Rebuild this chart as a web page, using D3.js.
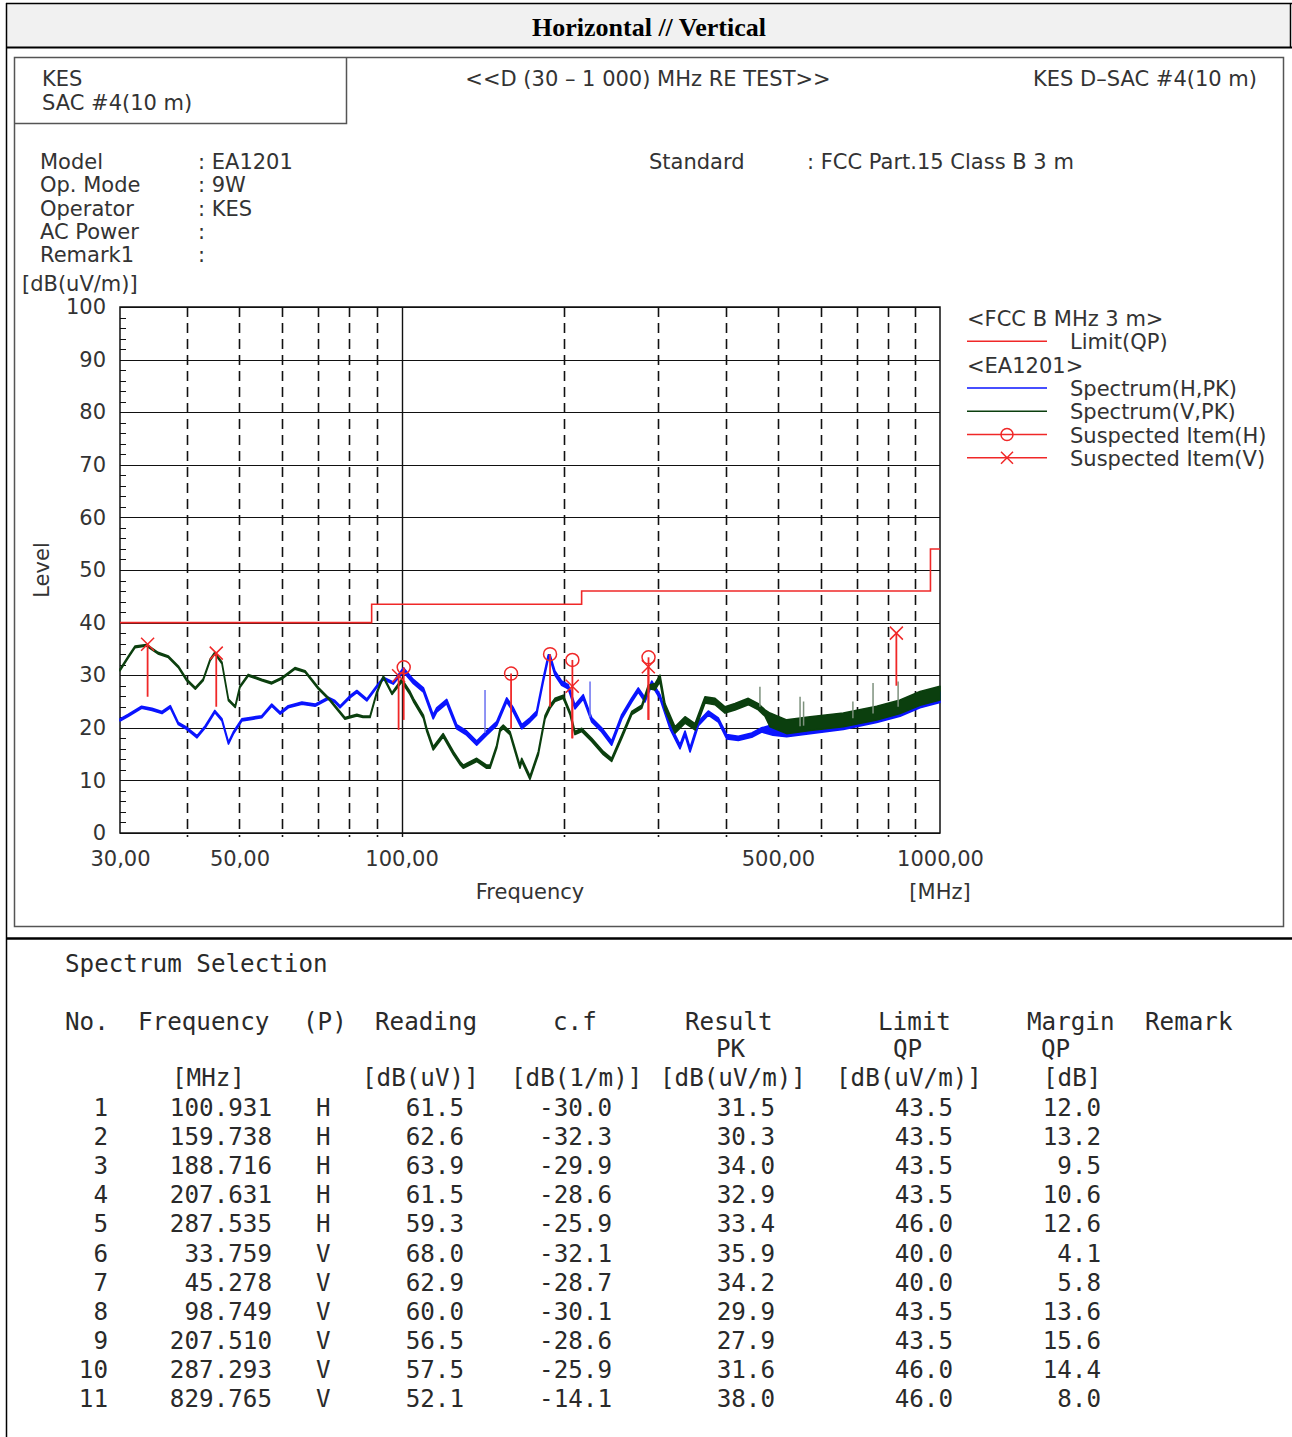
<!DOCTYPE html>
<html>
<head>
<meta charset="utf-8">
<script src="https://cdn.jsdelivr.net/npm/d3@7"></script>
<style>
  body { margin: 0; background: #fff; }
  svg text { font-family: "DejaVu Sans", sans-serif; fill: #333; }
</style>
</head>
<body>
<div id="report"></div>
<script>
// Spectrum (H, PK) - frequency [MHz] / level [dB(uV/m)] / noise half-width
var freqH = [30.0, 31.1, 32.9, 34.4, 35.9, 37.2, 38.5, 39.9, 41.7, 43.2, 45.0, 46.4, 47.7, 48.7, 50.5, 52.7, 55.0, 57.4, 59.5, 61.6,
  65.3, 69.1, 73.1, 75.2, 76.9, 80.2, 82.6, 86.2, 89.9, 92.5, 96.5, 100.8, 105.2, 109.8, 114.5, 116.2, 121.3, 126.6, 132.1, 137.9,
  143.9, 150.2, 156.8, 161.3, 167.2, 173.2, 178.2, 183.3, 187.3, 188.7, 192.7, 198.3, 204.0, 209.9, 217.5, 225.5, 235.3, 245.6, 256.4, 267.6,
  275.2, 283.2, 291.5, 302.0, 315.2, 329.0, 336.1, 343.4, 355.8, 371.3, 387.5, 401.7, 422.1, 447.0, 466.5, 489.6, 519.1, 573.7, 661.3, 762.9,
  843.0, 918.1, 1000];
var levelH = [21.5, 22.4, 23.9, 23.5, 22.9, 24.0, 20.8, 19.9, 18.3, 20.2, 23.1, 21.5, 17.1, 19.0, 21.5, 21.8, 22.1, 24.3, 22.8, 24.0,
  24.7, 24.3, 25.6, 25.0, 24.0, 25.9, 26.9, 25.3, 27.8, 29.4, 28.5, 31.0, 28.8, 27.2, 22.1, 23.4, 25.0, 20.2, 19.0, 17.1,
  19.0, 20.8, 25.3, 23.4, 20.2, 21.5, 22.8, 29.1, 33.5, 33.5, 30.4, 28.5, 27.8, 24.0, 25.9, 21.5, 19.6, 17.1, 22.1, 25.3,
  27.2, 25.3, 28.5, 25.9, 20.2, 16.4, 19.0, 15.8, 20.8, 22.8, 21.5, 18.3, 18.0, 18.6, 19.6, 19.6, 19.3, 19.9, 20.7, 22.0,
  23.2, 24.8, 25.8];
var noiseFromH = [30, 100, 480];
var noiseH = [0.2, 0.4, 1.0];

// Spectrum (V, PK)
var freqV = [30.0, 31.1, 32.0, 33.6, 35.3, 36.9, 38.5, 39.9, 41.4, 42.8, 44.1, 45.0, 46.4, 47.7, 49.1, 50.1, 51.9, 55.0, 57.4, 59.9,
  63.4, 66.2, 70.1, 73.6, 78.5, 82.6, 84.8, 87.4, 89.9, 92.5, 96.0, 100.1, 103.7, 105.2, 109.8, 111.4, 114.5, 119.5, 124.8, 128.4,
  130.2, 137.9, 143.9, 146.0, 150.2, 152.4, 154.5, 159.0, 165.9, 167.2, 173.2, 179.5, 184.7, 188.7, 192.7, 199.7, 205.5, 209.9, 216.1, 225.5,
  237.0, 245.6, 256.4, 267.6, 279.3, 287.3, 295.6, 302.0, 308.5, 322.0, 336.1, 350.8, 366.1, 382.1, 398.8, 416.2, 440.5, 459.8, 473.1, 483.4,
  519.1, 573.7, 661.3, 762.9, 843.0, 918.1, 1000];
var levelV = [31.0, 33.5, 35.4, 35.7, 34.2, 33.5, 31.6, 29.1, 27.5, 29.1, 32.9, 34.2, 32.3, 25.3, 24.0, 27.8, 30.0, 29.1, 28.5, 29.4,
  31.3, 30.7, 27.5, 25.3, 21.8, 22.4, 22.1, 22.1, 26.6, 29.7, 26.5, 29.0, 26.6, 25.3, 22.1, 19.6, 16.1, 18.6, 15.2, 13.3,
  12.6, 13.9, 12.6, 12.6, 16.4, 19.6, 20.2, 19.0, 12.6, 13.9, 10.5, 15.2, 22.0, 24.0, 25.3, 25.9, 22.8, 19.0, 19.6, 17.7,
  15.2, 13.9, 18.3, 22.8, 24.0, 27.8, 27.8, 29.4, 24.0, 19.6, 21.5, 20.2, 25.3, 25.0, 23.4, 24.0, 25.0, 24.0, 22.8, 21.5,
  20.2, 20.8, 21.5, 22.8, 24.0, 25.6, 26.6];
var noiseFromV = [30, 100, 290, 480];
var noiseV = [0.15, 0.3, 0.6, 1.3];

// narrow spikes: frequency, top, base
var spikeFreqV = [463, 549.7, 558, 689, 751, 836];
var spikeTopV = [27.8, 25.9, 25.0, 25.0, 28.5, 28.8];
var spikeBaseV = [24.0, 20.3, 20.4, 21.8, 22.7, 24.0];
var spikeFreqH = [142.9, 223.9];
var spikeTopH = [27.2, 28.8];
var spikeBaseH = [19.0, 22.0];

// Limit (QP) steps
var limitFreq = [30, 88, 88, 216, 216, 960, 960, 1000];
var limitLevel = [40, 40, 43.5, 43.5, 46, 46, 54, 54];

// Spectrum Selection table
var tableNo = [1, 2, 3, 4, 5, 6, 7, 8, 9, 10, 11];
var tableFreq = [100.931, 159.738, 188.716, 207.631, 287.535, 33.759, 45.278, 98.749, 207.510, 287.293, 829.765];
var tablePol = ["H", "H", "H", "H", "H", "V", "V", "V", "V", "V", "V"];
var tableReading = [61.5, 62.6, 63.9, 61.5, 59.3, 68.0, 62.9, 60.0, 56.5, 57.5, 52.1];
var tableCf = [-30.0, -32.3, -29.9, -28.6, -25.9, -32.1, -28.7, -30.1, -28.6, -25.9, -14.1];
var tableResult = [31.5, 30.3, 34.0, 32.9, 33.4, 35.9, 34.2, 29.9, 27.9, 31.6, 38.0];
var tableLimit = [43.5, 43.5, 43.5, 43.5, 46.0, 40.0, 40.0, 43.5, 43.5, 46.0, 46.0];
var tableMargin = [12.0, 13.2, 9.5, 10.6, 12.6, 4.1, 5.8, 13.6, 15.6, 14.4, 8.0];
// lower end of each suspected item stem
var stemLow = [21.5, 19.8, 24.0, 18.0, 21.5, 25.9, 24.0, 19.6, 18.0, 21.5, 28.0];

var yTicks = [0, 10, 20, 30, 40, 50, 60, 70, 80, 90, 100];
var xLabelTicks = [30, 50, 100, 500, 1000];
var xGridTicks = [40, 50, 60, 70, 80, 90, 100, 200, 300, 400, 500, 600, 700, 800, 900];

var colH = "#0a14ff";
var colV = "#0b3f0e";
var colRed = "#f02828";

// SVG
var svgWidth = 1292;
var svgHeight = 1437;
var plot = { left: 120, right: 940, top: 307, bottom: 833 };

var svg = d3.select("#report")
  .append("svg")
  .attr("width", svgWidth)
  .attr("height", svgHeight);

// outer report table
svg.append("rect").attr("x", 6).attr("y", 3).attr("width", 1285).attr("height", 44).attr("fill", "#f1f1f1");
svg.append("line").attr("x1", 6).attr("x2", 1292).attr("y1", 3.5).attr("y2", 3.5).attr("stroke", "#000").attr("stroke-width", 1.5);
svg.append("line").attr("x1", 6).attr("x2", 1292).attr("y1", 47.5).attr("y2", 47.5).attr("stroke", "#000").attr("stroke-width", 2);
svg.append("line").attr("x1", 6).attr("x2", 1292).attr("y1", 938.5).attr("y2", 938.5).attr("stroke", "#000").attr("stroke-width", 2.5);
svg.append("line").attr("x1", 6.5).attr("x2", 6.5).attr("y1", 3).attr("y2", svgHeight).attr("stroke", "#000").attr("stroke-width", 1.5);
svg.append("line").attr("x1", 1290.5).attr("x2", 1290.5).attr("y1", 3).attr("y2", 48).attr("stroke", "#000").attr("stroke-width", 1.5);

svg.append("text")
  .attr("x", 649).attr("y", 36)
  .attr("text-anchor", "middle")
  .style("font-family", "'Liberation Serif', serif")
  .style("font-weight", "bold")
  .style("font-size", "26px")
  .style("fill", "#000")
  .text("Horizontal // Vertical");

// chart frame
svg.append("rect").attr("x", 14.5).attr("y", 57.5).attr("width", 1269).attr("height", 869)
  .attr("fill", "none").attr("stroke", "#555").attr("stroke-width", 1.5);
svg.append("path").attr("d", "M14.5,123.5H346.5V57.5")
  .attr("fill", "none").attr("stroke", "#555").attr("stroke-width", 1.5);

function label(x, y, str, anchor) {
  return svg.append("text")
    .attr("x", x).attr("y", y)
    .attr("text-anchor", anchor || "start")
    .style("font-size", "21px")
    .text(str);
}

label(42, 86, "KES");
label(42, 110, "SAC #4(10 m)");
label(648, 86, "<<D (30 \u2013 1 000) MHz RE TEST>>", "middle");
label(1257, 86, "KES D\u2013SAC #4(10 m)", "end");

var infoNames = ["Model", "Op. Mode", "Operator", "AC Power", "Remark1"];
var infoValues = [": EA1201", ": 9W", ": KES", ":", ":"];
infoNames.forEach(function (name, i) {
  label(40, 169 + i * 23.3, name);
  label(198, 169 + i * 23.3, infoValues[i]);
});
label(649, 169, "Standard");
label(807, 169, ": FCC Part.15 Class B 3 m");
label(22, 291, "[dB(uV/m)]");

// Scales
var x = d3.scaleLog().domain([30, 1000]).range([plot.left, plot.right]);
var y = d3.scaleLinear().domain([0, 100]).range([plot.bottom, plot.top]);

var chart = svg.append("g");

// horizontal grid
chart.selectAll(".hgrid")
  .data(yTicks)
  .enter()
  .append("line")
  .attr("x1", plot.left).attr("x2", plot.right)
  .attr("y1", d => Math.round(y(d)) + 0.5).attr("y2", d => Math.round(y(d)) + 0.5)
  .attr("stroke", "#111").attr("stroke-width", 1.2);

// vertical grid, dashed except the decade line
chart.selectAll(".vgrid")
  .data(xGridTicks)
  .enter()
  .append("line")
  .attr("x1", d => Math.round(x(d)) + 0.5).attr("x2", d => Math.round(x(d)) + 0.5)
  .attr("y1", plot.top).attr("y2", plot.bottom + 4)
  .attr("stroke", "#111")
  .attr("stroke-width", d => d === 100 ? 1.4 : 1.6)
  .attr("stroke-dasharray", d => d === 100 ? null : "10,6");

// minor ticks on the level axis
chart.selectAll(".minor")
  .data(d3.range(0, 101, 2))
  .enter()
  .append("line")
  .attr("x1", plot.left).attr("x2", plot.left + 6)
  .attr("y1", d => Math.round(y(d)) + 0.5).attr("y2", d => Math.round(y(d)) + 0.5)
  .attr("stroke", "#111").attr("stroke-width", 1);

chart.append("rect")
  .attr("x", plot.left).attr("y", plot.top)
  .attr("width", plot.right - plot.left).attr("height", plot.bottom - plot.top)
  .attr("fill", "none").attr("stroke", "#111").attr("stroke-width", 1.5);

// Axes (labels only)
var leftAxis = d3.axisLeft(y).tickValues(yTicks).tickSize(0).tickPadding(14);
var yAxisG = chart.append("g").attr("transform", `translate(${plot.left},0)`).call(leftAxis);
yAxisG.select(".domain").remove();
yAxisG.selectAll("text").style("font-size", "21px").style("fill", "#333");

var bottomAxis = d3.axisBottom(x).tickValues(xLabelTicks).tickSize(0).tickPadding(18)
  .tickFormat(d => d3.format(".2f")(d).replace(".", ","));
var xAxisG = chart.append("g").attr("transform", `translate(0,${plot.bottom})`).call(bottomAxis);
xAxisG.select(".domain").remove();
xAxisG.selectAll("text").style("font-size", "21px").style("fill", "#333");

label(530, 899, "Frequency", "middle");
label(940, 899, "[MHz]", "middle");
svg.append("text")
  .attr("transform", "translate(49,570) rotate(-90)")
  .attr("text-anchor", "middle")
  .style("font-size", "21px")
  .text("Level");

// Limit line
var limitData = limitFreq.map((f, i) => ({ f: f, v: limitLevel[i] }));
chart.append("path")
  .datum(limitData)
  .attr("d", d3.line().x(d => x(d.f)).y(d => y(d.v)))
  .attr("fill", "none").attr("stroke", colRed).attr("stroke-width", 1.6);

// Spectrum traces
function noiseAt(f, from, spread) {
  var s = spread[0];
  from.forEach(function (edge, i) { if (f >= edge) s = spread[i]; });
  return s;
}

function traceData(freqs, levels, from, spread) {
  return freqs.map((f, i) => ({ f: f, v: levels[i], s: noiseAt(f, from, spread) }));
}

var traceArea = d3.area()
  .x(d => x(d.f))
  .y0(d => y(d.v - d.s))
  .y1(d => y(d.v + d.s));

function drawTrace(data, colour) {
  chart.append("path")
    .datum(data)
    .attr("d", traceArea)
    .attr("fill", colour)
    .attr("stroke", colour)
    .attr("stroke-width", 1.6)
    .attr("stroke-linejoin", "round");
}

function drawSpikes(freqs, tops, bases, colour) {
  chart.selectAll(null)
    .data(freqs)
    .enter()
    .append("line")
    .attr("x1", d => x(d)).attr("x2", d => x(d))
    .attr("y1", (d, i) => y(bases[i])).attr("y2", (d, i) => y(tops[i]))
    .attr("stroke", colour).attr("stroke-width", 1.5);
}

drawTrace(traceData(freqH, levelH, noiseFromH, noiseH), colH);
drawSpikes(spikeFreqH, spikeTopH, spikeBaseH, "#6a70f0");
drawTrace(traceData(freqV, levelV, noiseFromV, noiseV), colV);
drawSpikes(spikeFreqV, spikeTopV, spikeBaseV, "#7d917d");

// Suspected items
var items = tableFreq.map((f, i) => ({ f: f, v: tableResult[i], low: stemLow[i], pol: tablePol[i] }));

chart.selectAll(".stem")
  .data(items)
  .enter()
  .append("line")
  .attr("x1", d => x(d.f)).attr("x2", d => x(d.f))
  .attr("y1", d => y(d.v)).attr("y2", d => y(d.low))
  .attr("stroke", colRed).attr("stroke-width", 1.8);

function crossPath(cx, cy, r) {
  return `M${cx - r},${cy - r}L${cx + r},${cy + r}M${cx - r},${cy + r}L${cx + r},${cy - r}`;
}

chart.selectAll(".itemH")
  .data(items.filter(d => d.pol === "H"))
  .enter()
  .append("circle")
  .attr("cx", d => x(d.f)).attr("cy", d => y(d.v)).attr("r", 6.5)
  .attr("fill", "none").attr("stroke", colRed).attr("stroke-width", 1.5);

chart.selectAll(".itemV")
  .data(items.filter(d => d.pol === "V"))
  .enter()
  .append("path")
  .attr("d", d => crossPath(x(d.f), y(d.v), 6.5))
  .attr("fill", "none").attr("stroke", colRed).attr("stroke-width", 1.5);

// Legend
var legend = svg.append("g");
var legendRows = [
  { text: "<FCC B MHz 3 m>", head: true },
  { text: "Limit(QP)", colour: colRed },
  { text: "<EA1201>", head: true },
  { text: "Spectrum(H,PK)", colour: colH },
  { text: "Spectrum(V,PK)", colour: colV },
  { text: "Suspected Item(H)", colour: colRed, mark: "o" },
  { text: "Suspected Item(V)", colour: colRed, mark: "x" }
];
legendRows.forEach(function (row, i) {
  var cy = 318 + i * 23.3;
  if (row.head) {
    label(967, cy + 8, row.text);
    return;
  }
  legend.append("line").attr("x1", 967).attr("x2", 1047).attr("y1", cy).attr("y2", cy)
    .attr("stroke", row.colour).attr("stroke-width", 1.5);
  if (row.mark === "o") {
    legend.append("circle").attr("cx", 1007).attr("cy", cy).attr("r", 6)
      .attr("fill", "none").attr("stroke", row.colour).attr("stroke-width", 1.5);
  }
  if (row.mark === "x") {
    legend.append("path").attr("d", crossPath(1007, cy, 6))
      .attr("fill", "none").attr("stroke", row.colour).attr("stroke-width", 1.5);
  }
  label(1070, cy + 8, row.text);
});

// Spectrum Selection table
var monoSize = 25;
var monoScale = 14.6 / (0.602 * monoSize);
var table = svg.append("g");

function mono(xPos, base, str, anchor) {
  table.append("text")
    .attr("transform", `translate(${xPos},${base}) scale(${monoScale},1)`)
    .attr("text-anchor", anchor || "start")
    .style("font-family", "'DejaVu Sans Mono', monospace")
    .style("font-size", monoSize + "px")
    .style("fill", "#2a2a2a")
    .text(str);
}

mono(65, 972, "Spectrum Selection");

var headers = [["No.", 65], ["Frequency", 138], ["(P)", 303], ["Reading", 375], ["c.f", 553],
  ["Result", 685], ["Limit", 878], ["Margin", 1027], ["Remark", 1145]];
headers.forEach(h => mono(h[1], 1030, h[0]));
[["PK", 716], ["QP", 893], ["QP", 1041]].forEach(h => mono(h[1], 1057, h[0]));
[["[MHz]", 172], ["[dB(uV)]", 362], ["[dB(1/m)]", 511], ["[dB(uV/m)]", 660], ["[dB(uV/m)]", 836], ["[dB]", 1043]]
  .forEach(h => mono(h[1], 1086, h[0]));

tableNo.forEach(function (n, i) {
  var base = 1116 + i * 29.1;
  mono(108, base, String(n), "end");
  mono(272, base, tableFreq[i].toFixed(3), "end");
  mono(316, base, tablePol[i]);
  mono(464, base, tableReading[i].toFixed(1), "end");
  mono(612, base, tableCf[i].toFixed(1), "end");
  mono(775, base, tableResult[i].toFixed(1), "end");
  mono(953, base, tableLimit[i].toFixed(1), "end");
  mono(1101, base, tableMargin[i].toFixed(1), "end");
});
</script>
</body>
</html>
